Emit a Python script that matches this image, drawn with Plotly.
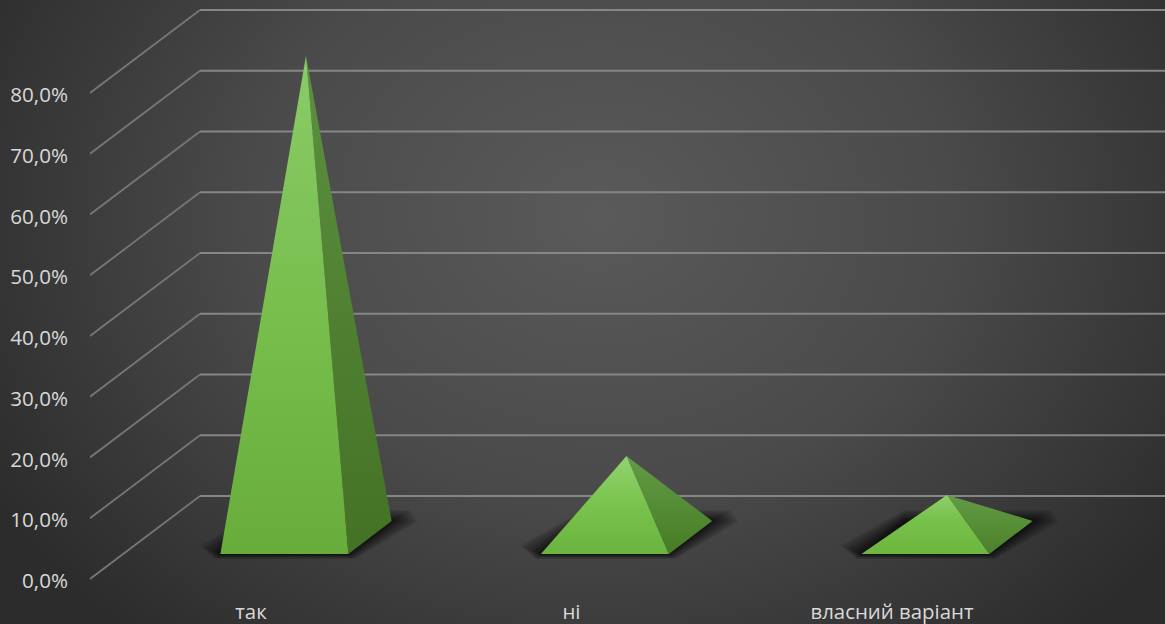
import base64
import plotly.graph_objects as go

categories = ["так", "ні", "власний варіант"]
values = [79.3, 13.4, 7.0]
y_ticks = [0, 10, 20, 30, 40, 50, 60, 70, 80]
y_tick_labels = ["0,0%", "10,0%", "20,0%", "30,0%", "40,0%", "50,0%", "60,0%", "70,0%", "80,0%"]

W, H = 1165, 624
ML, MB = 90, 32
X_UNIT = 320.5          # px per category
Y_UNIT = 6.075          # px per percent
X0_PX, Y0_PX = 252.0, 579.0
DEPTH_X = 108 / X_UNIT  # base depth shift in x units
DEPTH_Y = 83 / Y_UNIT   # depth shift in y units
WALL_X = 110 / X_UNIT   # wall depth shift in x units
HALF = 64 / X_UNIT
D_FRONT, D_BACK = 0.30, 0.70
FONT = "Open Sans"


def proj(x, y, d):
    return x + d * DEPTH_X, y + d * DEPTH_Y


xr = [(ML - X0_PX) / X_UNIT, (W - X0_PX) / X_UNIT]
yr = [(Y0_PX - (H - MB)) / Y_UNIT, Y0_PX / Y_UNIT]

fig = go.Figure()

# walls: back-wall gridlines and left-wall diagonals
for t in y_ticks:
    y1 = t + DEPTH_Y
    x1 = xr[0] + WALL_X
    fig.add_trace(go.Scatter(x=[xr[0], x1], y=[t, y1], mode="lines",
                             line=dict(color="#767676", width=1.8), hoverinfo="skip"))
    fig.add_trace(go.Scatter(x=[x1, xr[1] + 1], y=[y1, y1], mode="lines",
                             line=dict(color="#868686", width=2.2), hoverinfo="skip"))

# pyramids
FRONT_GRADS = [
    [[0, "#68ad3c"], [0.5, "#78bf4e"], [1, "#8acb68"]],
    [[0, "#6ab33e"], [0.55, "#7ac54f"], [1, "#93d272"]],
    [[0, "#6cb53f"], [0.6, "#78c24c"], [1, "#8fcf6c"]],
]
SIDE_GRADS = [
    [[0, "#447224"], [1, "#5c9140"]],
    [[0, "#477c26"], [1, "#639c46"]],
    [[0, "#4a8029"], [1, "#639c46"]],
]
for i, v in enumerate(values):
    fl = proj(i - HALF, 0, D_FRONT)
    fr = proj(i + HALF, 0, D_FRONT)
    br = proj(i + HALF, 0, D_BACK)
    bl = proj(i - HALF, 0, D_BACK)
    ap = proj(i, v, 0.5)

    # soft floor shadow: stacked translucent outlines
    for grow in [26, 23, 20, 17, 14, 11, 9, 7, 5, 3, 1.5]:
        ex = grow / X_UNIT
        ey = grow * 0.42 / Y_UNIT
        sx = [fl[0] - ex * 0.8, fl[0] - ex * 0.2, fr[0] + ex * 0.25,
              br[0] + ex, br[0] + ex * 0.7, bl[0]]
        sy = [fl[1] + ey * 0.8, fl[1] - ey * 0.45, fr[1] - ey * 0.45,
              br[1] - ey * 0.1, br[1] + ey, bl[1] + ey]
        fig.add_trace(go.Scatter(x=sx + sx[:1], y=sy + sy[:1], mode="lines",
                                 line=dict(width=0), fill="toself",
                                 fillcolor="rgba(0,0,0,0.09)", hoverinfo="skip"))

    fig.add_trace(go.Scatter(
        x=[fr[0], br[0], ap[0], fr[0]], y=[fr[1], br[1], ap[1], fr[1]],
        mode="lines", line=dict(width=0), fill="toself", hoverinfo="skip",
        fillgradient=dict(type="vertical", colorscale=SIDE_GRADS[i])))
    fig.add_trace(go.Scatter(
        x=[fl[0], fr[0], ap[0], fl[0]], y=[fl[1], fr[1], ap[1], fl[1]],
        mode="lines", line=dict(width=0), fill="toself", hoverinfo="skip",
        fillgradient=dict(type="vertical", colorscale=FRONT_GRADS[i])))

svg = f"""<svg xmlns='http://www.w3.org/2000/svg' width='{W}' height='{H}'>
<defs><radialGradient id='g' gradientUnits='userSpaceOnUse' cx='0' cy='0' r='1'
gradientTransform='translate(600 215) scale(700 560)'>
<stop offset='0' stop-color='#5a5a5a'/><stop offset='0.5' stop-color='#4a4a4a'/>
<stop offset='1' stop-color='#2c2c2c'/></radialGradient></defs>
<rect width='{W}' height='{H}' fill='url(#g)'/></svg>"""
uri = "data:image/svg+xml;base64," + base64.b64encode(svg.encode()).decode()

pw, ph = W - ML, H - MB
fig.update_layout(
    width=W, height=H, autosize=False,
    margin=dict(l=ML, r=0, t=0, b=MB, pad=0),
    showlegend=False,
    paper_bgcolor="#2b2b2b", plot_bgcolor="rgba(0,0,0,0)",
    font=dict(family=FONT, size=20, color="#d9d9d9"),
    images=[dict(source=uri, xref="paper", yref="paper", x=-ML / pw, y=1,
                 sizex=W / pw, sizey=H / ph, sizing="stretch",
                 xanchor="left", yanchor="top", layer="below")],
    xaxis=dict(range=xr, tickmode="array", tickvals=list(range(len(categories))),
               ticktext=categories, showgrid=False, zeroline=False, showline=False,
               ticks="", ticklabelstandoff=6, ticklabelshift=-1,
               tickfont=dict(family=FONT, size=20.4, color="#d9d9d9")),
    yaxis=dict(range=yr, tickmode="array", tickvals=y_ticks, ticktext=y_tick_labels,
               showgrid=False, zeroline=False, showline=False, ticks="",
               ticklabelstandoff=21, ticklabelshift=2,
               tickfont=dict(family=FONT, size=20.6, color="#d9d9d9")),
)
fig.write_html("out.html", config={"displayModeBar": False},
               post_script="document.body.style.margin='0';document.documentElement.style.background='#2b2b2b';document.body.style.overflow='hidden';")
